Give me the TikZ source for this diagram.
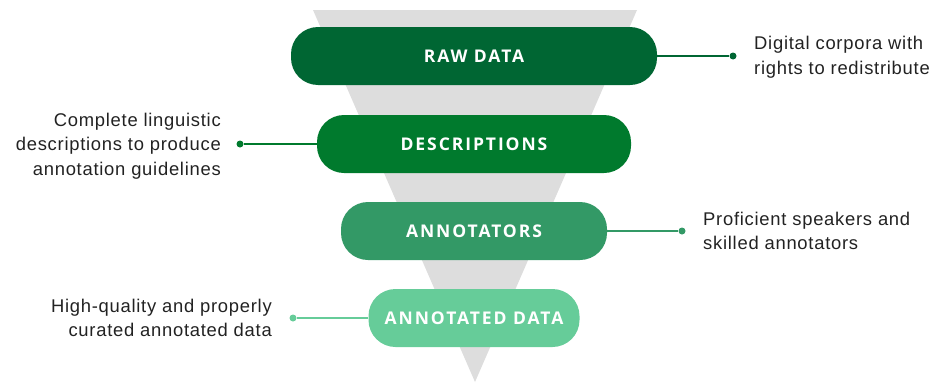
\documentclass[tikz,border=0pt]{standalone}
\usepackage{fontspec}
\setmainfont{Liberation Sans}[LetterSpace=4]
\newfontfamily\pillfont{Open Sans}[LetterSpace=11]
\usepackage{tikz}
\usetikzlibrary{positioning}

\definecolor{funnelgray}{HTML}{DDDDDD}
\definecolor{rawgreen}{HTML}{006633}
\definecolor{descgreen}{HTML}{007A2D}
\definecolor{annogreen}{HTML}{339966}
\definecolor{datagreen}{HTML}{66CC99}
\definecolor{txtgray}{HTML}{222222}

\begin{document}
\begin{tikzpicture}[x=1pt, y=-1pt,
    pill/.style={rounded corners=27pt, minimum height=58pt, inner sep=0pt,
        text=white, font=\pillfont\bfseries\fontsize{17.5}{18}\selectfont},
    note/.style={text=txtgray, inner sep=0pt, font=\fontsize{18.4}{24.5}\selectfont},
    dot/.style={circle, fill, inner sep=0pt, minimum size=7pt},
    link/.style={line width=1.3pt}]
    \useasboundingbox (0,0) rectangle (936,383);
    % - Funnel
    \fill[funnelgray] (313,10) -- (637,10) -- (475,382) -- cycle;
    % - Pills
    \node[pill, fill=rawgreen, minimum width=366pt] (raw) at (474,56) {RAW DATA};
    \node[pill, fill=descgreen, minimum width=314pt] (desc) at (474,144) {DESCRIPTIONS};
    \node[pill, fill=annogreen, minimum width=266pt] (anno) at (474,231) {ANNOTATORS};
    \node[pill, fill=datagreen, minimum width=211pt] (data) at (474,318) {ANNOTATED DATA};
    % - Dots at the free ends
    \node[dot, rawgreen] (rawdot) at (733,56) {};
    \node[dot, descgreen] (descdot) at (240,144) {};
    \node[dot, annogreen] (annodot) at (682,231) {};
    \node[dot, datagreen] (datadot) at (293,318) {};
    % - Connectors
    \draw[link, rawgreen] (raw) -- (rawdot);
    \draw[link, descgreen] (desc) -- (descdot);
    \draw[link, annogreen] (anno) -- (annodot);
    \draw[link, datagreen] (data) -- (datadot);
    % - Notes
    \node[note, align=left, anchor=west] (rawnote) at (754,57) {Digital corpora with\\rights to redistribute};
    \node[note, align=right, anchor=east] (descnote) at (221,146) {Complete linguistic\\descriptions to produce\\annotation guidelines};
    \node[note, align=left, anchor=west] (annonote) at (703,231) {Proficient speakers and\\skilled annotators};
    \node[note, align=right, anchor=east] (datanote) at (272,318) {High-quality and properly\\curated annotated data};
\end{tikzpicture}
\end{document}
